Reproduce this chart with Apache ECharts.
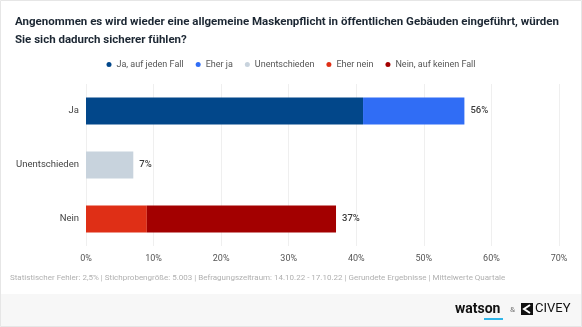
<!DOCTYPE html>
<html><head><meta charset="utf-8">
<script src="https://cdn.jsdelivr.net/npm/echarts@6/dist/echarts.min.js"></script>
<style>html,body{margin:0;padding:0;background:#fff}#c{width:582px;height:327px}</style>
</head><body><div id="c"></div>
<script>
const categories = ['Ja', 'Unentschieden', 'Nein'];
const seriesNames = ['Ja, auf jeden Fall', 'Eher ja', 'Unentschieden', 'Eher nein', 'Nein, auf keinen Fall'];
const jaAufJedenFall = [41, null, null];
const eherJa = [15, null, null];
const unentschieden = [null, 7, null];
const eherNein = [null, null, 9];
const neinAufKeinenFall = [null, null, 28];
const totals = [56, 7, 37];
const xTicks = [0, 10, 20, 30, 40, 50, 60, 70];
const colors = ['#02478a', '#306df5', '#c8d3dd', '#df2f16', '#a30000'];
const values = [jaAufJedenFall, eherJa, unentschieden, eherNein, neinAufKeinenFall];
// which series carries the total label for each row
const labelSeries = [1, 2, 4];

const chart = echarts.init(document.getElementById('c'), null, {renderer: 'canvas'});
const FONT = 'Roboto';
const series = values.map((v, i) => ({
  name: seriesNames[i],
  type: 'bar',
  stack: 'total',
  barWidth: 27,
  data: v,
  itemStyle: {color: colors[i]},
  label: {
    show: true,
    position: 'right',
    distance: 6,
    fontFamily: FONT,
    fontSize: 9.5,
    fontWeight: 500,
    color: '#3a3a3a',
    formatter: p => (v[p.dataIndex] != null && labelSeries[p.dataIndex] === i) ? totals[p.dataIndex] + '%' : ''
  },
  emphasis: {disabled: true}
}));

chart.setOption({
  animation: false,
  backgroundColor: '#fff',
  textStyle: {fontFamily: FONT},
  title: {
    text: 'Angenommen es wird wieder eine allgemeine Maskenpflicht in öffentlichen Gebäuden eingeführt, würden\nSie sich dadurch sicherer fühlen?',
    left: 10, top: 8,
    textStyle: {fontFamily: FONT, fontSize: 11.5, fontWeight: 'bold', color: '#1c2733', lineHeight: 18}
  },
  legend: {
    top: 55, left: 'center',
    icon: 'circle', itemWidth: 5, itemHeight: 5, itemGap: 12,
    textStyle: {fontFamily: FONT, fontSize: 9, color: '#555'},
    data: seriesNames
  },
  grid: {left: 86, right: 23, top: 84, bottom: 81, containLabel: false, outerBoundsMode: 'none'},
  xAxis: {
    type: 'value', min: 0, max: 70, interval: 10,
    axisLine: {show: false}, axisTick: {show: false},
    splitLine: {lineStyle: {color: '#efefef'}},
    axisLabel: {fontFamily: FONT, fontSize: 9, color: '#555', margin: 8,
      formatter: v => xTicks.includes(v) ? v + '%' : ''}
  },
  yAxis: {
    type: 'category', data: categories, inverse: true,
    axisLine: {show: false}, axisTick: {show: false},
    axisLabel: {fontFamily: FONT, fontSize: 9.5, color: '#444', margin: 7}
  },
  series: series,
  graphic: [
    {type: 'rect', shape: {x: 0, y: 294, width: 582, height: 33}, style: {fill: '#f7f7f7'}, silent: true, z: -10},
    {type: 'rect', shape: {x: 0.5, y: 0.5, width: 581, height: 326}, style: {fill: null, stroke: '#e6e6e6', lineWidth: 1}, silent: true, z: 100},
    {type: 'text', left: 10, top: 274, style: {text: 'Statistischer Fehler: 2,5% | Stichprobengröße: 5.003 | Befragungszeitraum: 14.10.22 - 17.10.22 | Gerundete Ergebnisse | Mittelwerte Quartale', fontFamily: FONT, fontSize: 8, fill: '#b0b0b0'}},
    {type: 'text', left: 455, top: 302, style: {text: 'watson', fontFamily: 'Roboto', fontSize: 14, fontWeight: 'bold', fill: '#111'}},
    {type: 'rect', shape: {x: 484, y: 318, width: 19, height: 2}, style: {fill: '#2fb5e8'}},
    {type: 'text', left: 510, top: 306, style: {text: '&', fontFamily: FONT, fontSize: 8, fill: '#777'}},
    {type: 'rect', shape: {x: 521, y: 303, width: 12, height: 12}, style: {fill: '#111'}},
    {type: 'polyline', shape: {points: [[530, 305], [524, 309], [530, 313]]}, style: {stroke: '#fff', lineWidth: 2, fill: null}},
    {type: 'text', left: 535, top: 302, style: {text: 'CIVEY', fontFamily: FONT, fontSize: 13, fill: '#111'}}
  ]
});
</script></body></html>
